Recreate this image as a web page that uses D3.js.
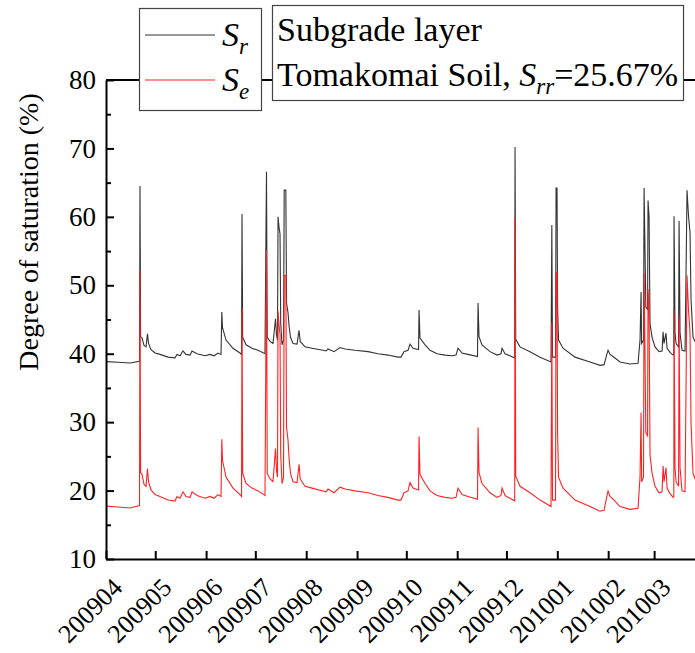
<!DOCTYPE html>
<html>
<head>
  <meta charset="utf-8">
  <title>Degree of saturation - Subgrade layer</title>
  <script src="https://cdnjs.cloudflare.com/ajax/libs/d3/7.8.5/d3.min.js"></script>
  <style>
    body { margin: 0; background: #fff; }
    svg { display: block; }
    .axis path, .axis line { stroke: #000; }
  </style>
</head>
<body>
  <div id="chart"></div>
  <script>
    // time stamps (YYYY-MM-DD HH)
    var times = [
      "2009-04-01 00", "2009-04-08 07", "2009-04-15 15", "2009-04-21 10", "2009-04-21 17", "2009-04-22 02",
      "2009-04-22 23", "2009-04-24 04", "2009-04-25 09", "2009-04-26 07", "2009-04-26 22", "2009-04-28 10",
      "2009-04-30 21", "2009-05-03 22", "2009-05-08 19", "2009-05-13 01", "2009-05-14 06", "2009-05-16 02",
      "2009-05-17 22", "2009-05-19 18", "2009-05-22 05", "2009-05-23 10", "2009-05-26 11", "2009-05-31 08",
      "2009-06-03 09", "2009-06-05 20", "2009-06-08 06", "2009-06-10 02", "2009-06-10 14", "2009-06-11 00",
      "2009-06-13 03", "2009-06-17 09", "2009-06-21 16", "2009-06-22 14", "2009-06-22 21", "2009-06-23 07",
      "2009-06-25 08", "2009-06-28 23", "2009-07-02 15", "2009-07-06 21", "2009-07-07 19", "2009-07-08 06",
      "2009-07-09 23", "2009-07-11 18", "2009-07-13 07", "2009-07-13 22", "2009-07-14 12", "2009-07-14 20",
      "2009-07-15 10", "2009-07-16 01", "2009-07-16 11", "2009-07-17 06", "2009-07-18 04", "2009-07-18 14",
      "2009-07-19 14", "2009-07-20 00", "2009-07-20 22", "2009-07-21 12", "2009-07-22 10", "2009-07-23 23",
      "2009-07-26 10", "2009-07-27 15", "2009-07-28 08", "2009-07-31 06", "2009-08-04 13", "2009-08-11 06",
      "2009-08-13 02", "2009-08-14 07", "2009-08-17 23", "2009-08-21 14", "2009-08-24 16", "2009-08-30 18",
      "2009-09-07 16", "2009-09-13 18", "2009-09-19 20", "2009-09-25 23", "2009-09-27 18", "2009-09-29 14",
      "2009-10-02 01", "2009-10-03 06", "2009-10-05 02", "2009-10-08 11", "2009-10-08 18", "2009-10-09 08",
      "2009-10-12 10", "2009-10-15 11", "2009-10-19 17", "2009-10-24 14", "2009-10-28 20", "2009-10-31 07",
      "2009-11-01 12", "2009-11-03 23", "2009-11-07 14", "2009-11-13 09", "2009-11-13 17", "2009-11-14 07",
      "2009-11-16 03", "2009-11-21 00", "2009-11-25 07", "2009-11-27 17", "2009-11-28 08", "2009-11-30 04",
      "2009-12-05 01", "2009-12-06 01", "2009-12-06 06", "2009-12-06 16", "2009-12-09 07", "2009-12-15 09",
      "2009-12-21 12", "2009-12-28 04", "2009-12-28 16", "2009-12-29 02", "2009-12-30 22", "2009-12-31 06",
      "2009-12-31 20", "2010-01-01 04", "2010-01-01 18", "2010-01-04 12", "2010-01-11 19", "2010-01-20 23",
      "2010-01-27 01", "2010-01-29 12", "2010-01-31 07", "2010-01-31 22", "2010-02-02 03", "2010-02-03 23",
      "2010-02-08 06", "2010-02-14 08", "2010-02-19 05", "2010-02-19 19", "2010-02-20 10", "2010-02-21 01",
      "2010-02-21 09", "2010-02-22 13", "2010-02-22 21", "2010-02-23 11", "2010-02-23 23", "2010-02-25 00",
      "2010-02-25 07", "2010-02-25 22", "2010-02-26 12", "2010-02-27 18", "2010-03-01 13", "2010-03-04 00",
      "2010-03-05 20", "2010-03-06 11", "2010-03-07 01", "2010-03-08 06", "2010-03-08 21", "2010-03-10 17",
      "2010-03-12 13", "2010-03-13 00", "2010-03-13 03", "2010-03-13 18", "2010-03-14 09", "2010-03-15 21",
      "2010-03-16 05", "2010-03-16 19", "2010-03-18 00", "2010-03-19 20", "2010-03-20 11", "2010-03-21 01",
      "2010-03-22 00", "2010-03-22 21", "2010-03-23 12", "2010-03-24 17", "2010-03-25 23", "2010-03-27 00"
    ];

    // Sr (black)
    var srValues = [
      38.85, 38.75, 38.65, 38.9, 64.5, 42.5, 42.3, 41.2, 41.0, 42.9, 41.5, 40.6,
      40.1, 39.9, 39.5, 39.4, 39.9, 39.7, 40.4, 39.9, 39.8, 40.4, 40.0, 39.7,
      39.9, 39.7, 40.1, 39.9, 46.1, 43.8, 42.0, 40.8, 40.1, 39.9, 60.4, 42.4,
      41.3, 40.8, 40.5, 40.0, 66.6, 42.4, 41.8, 41.5, 45.1, 42.7, 42.0, 60.0,
      58.5, 57.5, 44.5, 41.3, 42.0, 63.9, 63.9, 47.4, 46.0, 44.2, 42.4, 41.5,
      41.4, 43.4, 41.8, 41.0, 40.8, 40.5, 40.4, 40.7, 40.3, 40.9, 40.7, 40.5,
      40.3, 40.0, 39.8, 39.5, 39.5, 40.3, 40.5, 41.4, 40.8, 40.6, 46.4, 42.3,
      41.3, 40.5, 40.0, 39.8, 39.7, 39.8, 40.8, 40.1, 39.9, 39.6, 47.4, 42.5,
      41.3, 40.3, 39.8, 40.0, 40.8, 40.0, 39.5, 39.4, 70.2, 42.1, 41.0, 40.3,
      39.5, 38.8, 58.8, 39.5, 39.5, 64.2, 64.2, 46.9, 42.0, 40.8, 39.5, 38.8,
      38.3, 38.4, 40.0, 40.5, 39.9, 39.6, 38.8, 38.5, 38.6, 40.3, 42.0, 49.0,
      41.5, 42.0, 64.2, 55.0, 46.8, 46.5, 62.4, 60.0, 44.4, 42.4, 41.0, 40.3,
      40.4, 43.2, 41.5, 43.0, 40.8, 40.2, 39.8, 39.9, 60.1, 43.0, 41.5, 41.0,
      59.4, 43.0, 40.5, 40.4, 52.0, 63.9, 60.0, 57.7, 47.8, 42.4, 41.8, 41.6
    ];

    // Se (red)
    var seValues = [
      17.73, 17.60, 17.46, 17.80, 52.24, 22.64, 22.37, 20.89, 20.62, 23.18, 21.30, 20.09,
      19.41, 19.14, 18.61, 18.47, 19.14, 18.88, 19.82, 19.14, 19.01, 19.82, 19.28, 18.88,
      19.14, 18.88, 19.41, 19.14, 27.49, 24.39, 21.97, 20.36, 19.41, 19.14, 46.72, 22.51,
      21.03, 20.36, 19.95, 19.28, 55.07, 22.51, 21.70, 21.30, 26.14, 22.91, 21.97, 46.19,
      44.17, 42.82, 25.33, 21.03, 21.97, 51.43, 51.43, 29.23, 27.35, 24.93, 22.51, 21.30,
      21.16, 23.85, 21.70, 20.62, 20.36, 19.95, 19.82, 20.22, 19.68, 20.49, 20.22, 19.95,
      19.68, 19.28, 19.01, 18.61, 18.61, 19.68, 19.95, 21.16, 20.36, 20.09, 27.89, 22.37,
      21.03, 19.95, 19.28, 19.01, 18.88, 19.01, 20.36, 19.41, 19.14, 18.74, 29.23, 22.64,
      21.03, 19.68, 19.01, 19.28, 20.36, 19.28, 18.61, 18.47, 59.91, 22.10, 20.62, 19.68,
      18.61, 17.66, 44.57, 18.61, 18.61, 51.84, 51.84, 28.56, 21.97, 20.36, 18.61, 17.66,
      16.99, 17.13, 19.28, 19.95, 19.14, 18.74, 17.66, 17.26, 17.40, 19.68, 21.97, 31.39,
      21.30, 21.97, 51.84, 39.46, 28.43, 28.02, 49.41, 46.19, 25.20, 22.51, 20.62, 19.68,
      19.82, 23.58, 21.30, 23.32, 20.36, 19.55, 19.01, 19.14, 46.32, 23.32, 21.30, 20.62,
      45.38, 23.32, 19.95, 19.82, 35.42, 51.43, 46.19, 43.09, 29.77, 22.51, 21.70, 21.43
    ];

    var yTicks = [10, 20, 30, 40, 50, 60, 70, 80];
    var yMinorTicks = [15, 25, 35, 45, 55, 65, 75];
    var xStart = "2009-04-01 00", xEnd = "2010-04-01 00";

    var serif = '"Liberation Serif", "Times New Roman", Times, serif';
    var parseTime = d3.timeParse("%Y-%m-%d %H");
    var data = times.map(function(t, i) {
      return { date: parseTime(t), sr: srValues[i], se: seValues[i] };
    });

    var svgWidth = 695, svgHeight = 653;
    var plotLeft = 106, plotTop = 80, plotBottom = 559, plotRight = 705;

    var svg = d3.select("#chart").append("svg")
      .attr("width", svgWidth)
      .attr("height", svgHeight);

    svg.append("rect").attr("width", svgWidth).attr("height", svgHeight).attr("fill", "#fff");

    var x = d3.scaleTime()
      .domain([parseTime(xStart), parseTime(xEnd)])
      .range([plotLeft, plotRight]);
    var y = d3.scaleLinear()
      .domain([10, 80])
      .range([plotBottom, plotTop]);

    // data lines
    var lineSr = d3.line().x(function(d) { return x(d.date); }).y(function(d) { return y(d.sr); });
    var lineSe = d3.line().x(function(d) { return x(d.date); }).y(function(d) { return y(d.se); });

    svg.append("path")
      .datum(data)
      .attr("fill", "none")
      .attr("stroke", "#333")
      .attr("stroke-width", 1.1)
      .attr("d", lineSr);
    svg.append("path")
      .datum(data)
      .attr("fill", "none")
      .attr("stroke", "#f22")
      .attr("stroke-width", 1.1)
      .attr("d", lineSe);

    // top frame line
    svg.append("line")
      .attr("x1", plotLeft).attr("x2", plotRight)
      .attr("y1", plotTop).attr("y2", plotTop)
      .attr("stroke", "#000").attr("stroke-width", 2);

    // y axis (ticks inside)
    svg.append("g")
      .attr("class", "axis")
      .attr("transform", "translate(" + plotLeft + ",0)")
      .call(d3.axisLeft(y).tickValues(yMinorTicks).tickSizeInner(-5).tickSizeOuter(0).tickFormat(""))
      .call(function(g) { g.select(".domain").remove(); g.selectAll("line").attr("stroke-width", 2); });
    svg.append("g")
      .attr("class", "axis")
      .attr("transform", "translate(" + plotLeft + ",0)")
      .call(d3.axisLeft(y).tickValues(yTicks).tickSizeInner(-8).tickSizeOuter(0).tickPadding(10))
      .call(function(g) {
        g.select(".domain").attr("stroke-width", 2);
        g.selectAll("line").attr("stroke-width", 2);
        g.selectAll("text").attr("font-size", 27).style("font-family", serif).attr("fill", "#000");
      });

    // x axis (ticks inside, rotated labels)
    var months = d3.timeMonth.range(parseTime(xStart), parseTime(xEnd));
    var fmt = d3.timeFormat("%Y%m");
    svg.append("g")
      .attr("class", "axis")
      .attr("transform", "translate(0," + plotBottom + ")")
      .call(d3.axisBottom(x).tickValues(months).tickSizeInner(-8).tickSizeOuter(0).tickFormat(""))
      .call(function(g) {
        g.select(".domain").attr("stroke-width", 2);
        g.selectAll("line").attr("stroke-width", 2);
      });

    svg.append("g")
      .selectAll("text")
      .data(months)
      .enter().append("text")
      .attr("text-anchor", "end")
      .attr("font-size", 26)
      .style("font-family", serif)
      .attr("transform", function(d) { return "translate(" + (x(d) + 18) + "," + (plotBottom + 30) + ") rotate(-45)"; })
      .text(function(d) { return fmt(d); });

    // y axis title
    svg.append("text")
      .attr("transform", "translate(38,232) rotate(-90)")
      .attr("text-anchor", "middle")
      .attr("font-size", 28)
      .style("font-family", serif)
      .text("Degree of saturation (%)");

    // legend box
    var leg = svg.append("g");
    leg.append("rect")
      .attr("x", 139.5).attr("y", 8.5).attr("width", 122).attr("height", 102)
      .attr("fill", "#fff").attr("stroke", "#444").attr("stroke-width", 1.2);
    var legItems = [
      { label: "r", color: "#333", ly: 35, ty: 46 },
      { label: "e", color: "#f22", ly: 80, ty: 91 }
    ];
    legItems.forEach(function(it) {
      leg.append("line")
        .attr("x1", 145).attr("x2", 215).attr("y1", it.ly).attr("y2", it.ly)
        .attr("stroke", it.color).attr("stroke-width", 1.1);
      var t = leg.append("text").attr("x", 222).attr("y", it.ty).attr("font-size", 34).style("font-family", serif);
      t.append("tspan").attr("font-style", "italic").text("S");
      t.append("tspan").attr("font-style", "italic").attr("font-size", 23).attr("dy", 8).text(it.label);
    });

    // annotation box
    var note = svg.append("g");
    note.append("rect")
      .attr("x", 272.5).attr("y", 5.5).attr("width", 411).attr("height", 95)
      .attr("fill", "#fff").attr("stroke", "#444").attr("stroke-width", 1.2);
    note.append("text").attr("x", 277).attr("y", 41).attr("font-size", 34).style("font-family", serif)
      .text("Subgrade layer");
    var t2 = note.append("text").attr("x", 277).attr("y", 86).attr("font-size", 34).style("font-family", serif);
    t2.append("tspan").text("Tomakomai Soil, ");
    t2.append("tspan").attr("font-style", "italic").text("S");
    t2.append("tspan").attr("font-style", "italic").attr("font-size", 23).attr("dy", 8).text("rr");
    t2.append("tspan").attr("dy", -8).text("=25.67%");
  </script>
</body>
</html>
